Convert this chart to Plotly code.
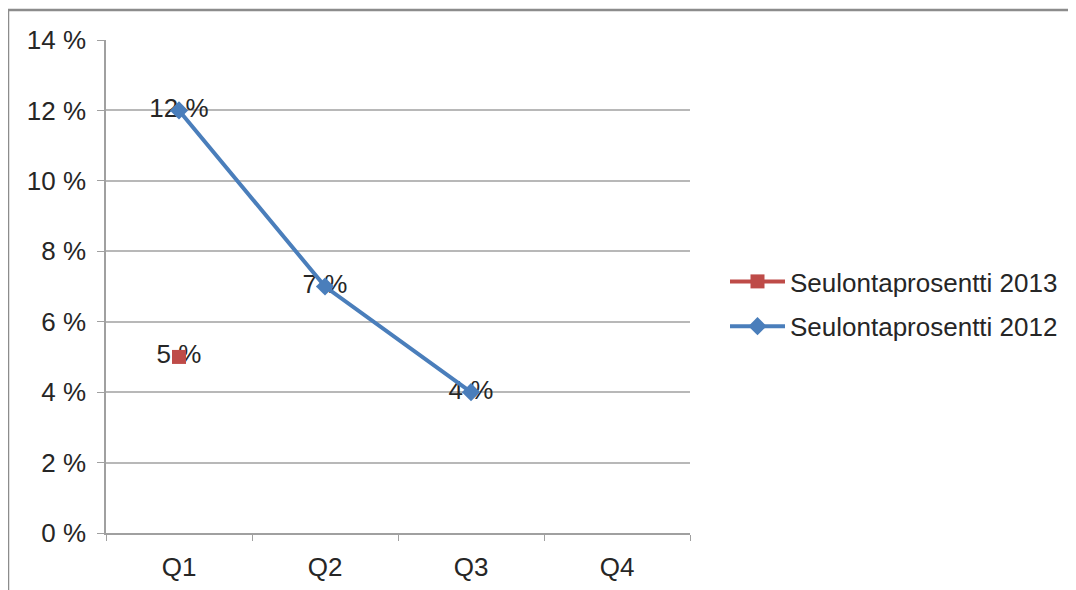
import plotly.graph_objects as go

quarters = ["Q1", "Q2", "Q3", "Q4"]
rate_2013 = [5, None, None, None]
rate_2012 = [12, 7, 4, None]
labels_2013 = ["5 %", "", "", ""]
labels_2012 = ["12 %", "7 %", "4 %", ""]
y_ticks = [0, 2, 4, 6, 8, 10, 12, 14]
y_tick_text = [f"{v} %" for v in y_ticks]

FONT = "Liberation Sans, Arial, sans-serif"
FS = 26
TEXT_COLOR = "#262626"

fig = go.Figure()
# data labels first so the markers sit on top, as in the reference
for vals, labs in ((rate_2013, labels_2013), (rate_2012, labels_2012)):
    fig.add_trace(go.Scatter(
        x=quarters, y=vals, mode="text", text=labs, textposition="middle center",
        textfont=dict(family=FONT, size=FS, color=TEXT_COLOR),
        showlegend=False, hoverinfo="skip",
    ))

fig.add_trace(go.Scatter(
    x=quarters, y=rate_2013, name="Seulontaprosentti 2013", legendgroup="a",
    mode="lines+markers",
    line=dict(color="#BE4B48", width=4),
    marker=dict(symbol="square", size=14, color="#BE4B48"),
))
fig.add_trace(go.Scatter(
    x=quarters, y=rate_2012, name="Seulontaprosentti 2012", legendgroup="b",
    mode="lines+markers",
    line=dict(color="#4A7EBB", width=4),
    marker=dict(symbol="diamond", size=14, color="#4A7EBB"),
))

# page body adds an 8px offset; margins compensate for it
L, T = 98, 32
PW, PH = 584, 493
W, H = 1076, 590
R = W - L - PW
B = H - T - PH

fig.update_layout(
    width=W, height=H,
    margin=dict(l=L, r=R, t=T, b=B),
    paper_bgcolor="white", plot_bgcolor="white",
    font=dict(family=FONT, size=FS, color=TEXT_COLOR),
    showlegend=True,
    legend=dict(
        x=(717 - L) / PW, y=(T + PH - 296) / PH, xanchor="left", yanchor="middle",
        font=dict(family=FONT, size=FS, color=TEXT_COLOR),
        traceorder="grouped", itemwidth=55, tracegroupgap=8,
        bgcolor="rgba(0,0,0,0)",
    ),
    xaxis=dict(
        type="category", categoryorder="array", categoryarray=quarters,
        range=[-0.5, 3.5], tickson="boundaries",
        ticks="outside", ticklen=6, tickcolor="#A0A0A0",
        showline=True, linecolor="#A0A0A0", linewidth=1.5,
        showgrid=False, zeroline=False, ticklabelstandoff=10,
        tickfont=dict(family=FONT, size=FS, color=TEXT_COLOR),
    ),
    yaxis=dict(
        range=[0, 14], tickvals=y_ticks, ticktext=y_tick_text,
        ticks="outside", ticklen=7, tickcolor="#A0A0A0",
        showline=True, linecolor="#A0A0A0", linewidth=1.5,
        showgrid=True, gridcolor="#B8B8B8", gridwidth=1.5,
        zeroline=False, ticklabelstandoff=6,
        tickfont=dict(family=FONT, size=FS, color=TEXT_COLOR),
    ),
)

# outer chart frame (visible top and left edges)
x0 = (0 - L) / PW
y0 = 1 + (T - 2) / PH
fig.add_shape(type="line", xref="paper", yref="paper",
              x0=x0, x1=(W + 10 - L) / PW, y0=y0, y1=y0,
              line=dict(color="#8C8C8C", width=2.5))
fig.add_shape(type="line", xref="paper", yref="paper",
              x0=x0, x1=x0, y0=y0, y1=-(B + 10) / PH,
              line=dict(color="#8C8C8C", width=2.5))

fig.write_html("out.html")
